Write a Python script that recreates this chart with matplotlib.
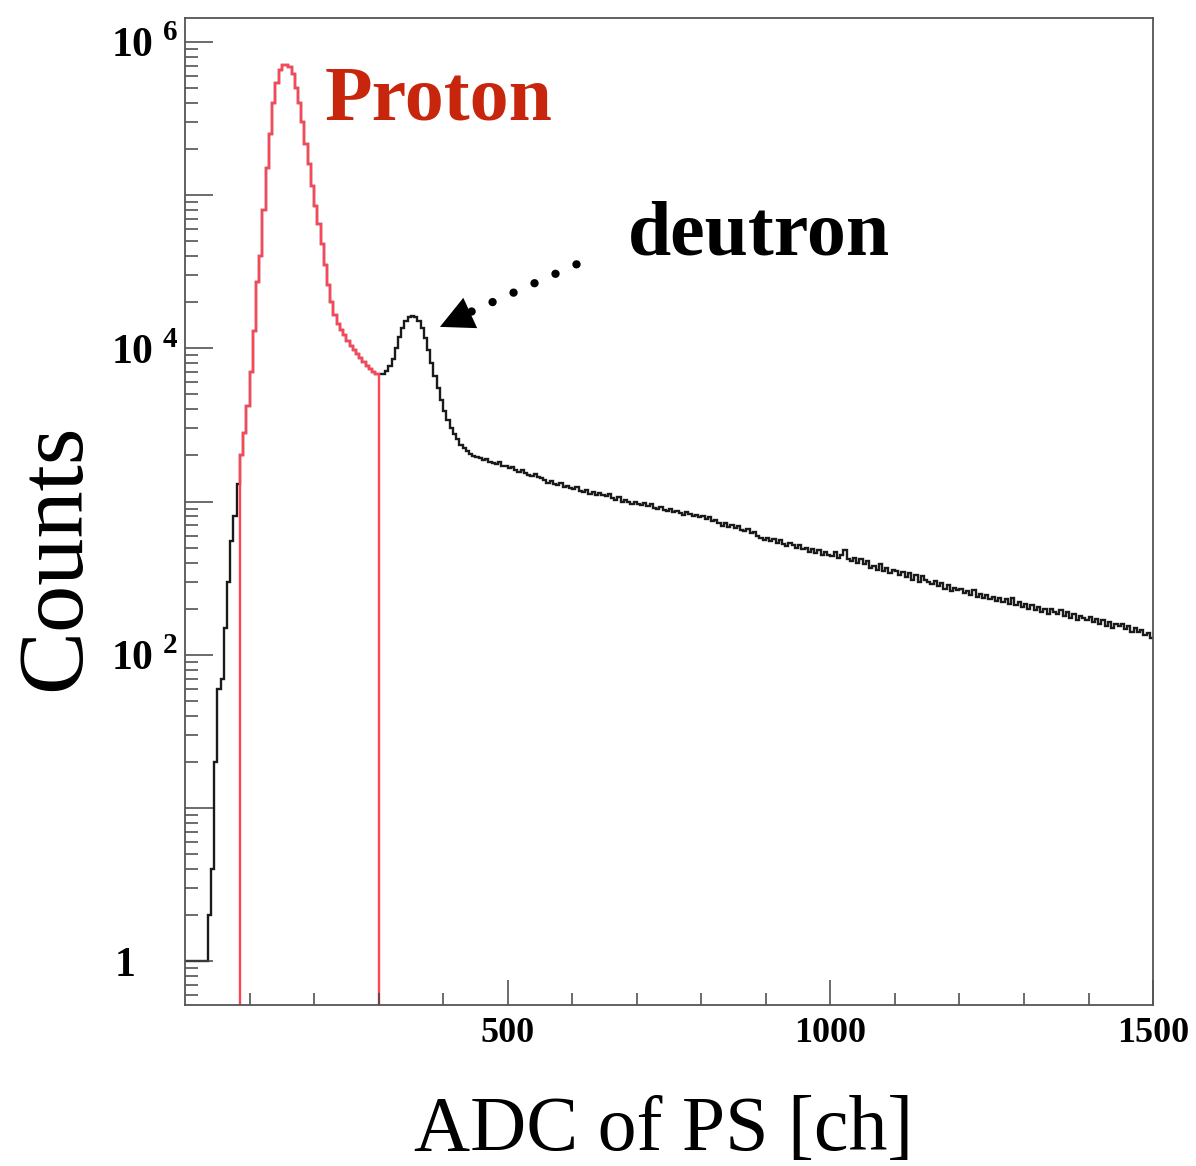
import numpy as np
import matplotlib
matplotlib.use('Agg')
import matplotlib.pyplot as plt
from matplotlib.ticker import FixedLocator, FuncFormatter, LogLocator, NullFormatter

# ---- data (5 ch / bin, 0 - 1500 ch) ----
bin_width = 5
x_max = 1500

# 0 - 455 ch : rising edge, proton peak, deuteron peak
counts_low = [
    1, 1, 1, 1, 1, 1, 1, 2, 4, 20,
    60, 70, 150, 300, 550, 800, 1300, 2000, 2800, 4200,
    7000, 13000, 27000, 40000, 80000, 150000, 250000, 400000, 540000, 650000,
    705000, 710000, 680000, 620000, 500000, 400000, 300000, 215000, 160000, 115000,
    85000, 65000, 48000, 35000, 26000, 20000, 16500, 14500, 13200, 12200,
    11200, 10400, 9800, 9200, 8600, 8200, 7700, 7300, 7000, 6850,
    6750, 6800, 7100, 7700, 8500, 10000, 11800, 13500, 15000, 15900,
    16300, 16000, 15000, 13500, 11700, 9800, 8000, 6600, 5500, 4600,
    3900, 3400, 3000, 2750, 2550, 2350, 2250, 2150, 2050, 1990,
    1950,
]

# 455 - 1500 ch : long tail
counts_tail = [
    1930, 1880, 1900, 1820, 1790, 1760, 1800, 1720, 1700,
    1650, 1680, 1600, 1560, 1610, 1530, 1500, 1470, 1520, 1440,
    1420, 1380, 1330, 1360, 1300, 1280, 1320, 1250, 1270, 1230,
    1210, 1240, 1170, 1150, 1190, 1120, 1160, 1100, 1130, 1110,
    1090, 1120, 1060, 1030, 1070, 1000, 1020, 990, 960, 1000,
    970, 950, 980, 930, 960, 910, 890, 920, 880, 870,
    890, 850, 870, 840, 820, 860, 830, 800, 820, 790,
    810, 770, 790, 750, 760, 720, 690, 730, 680, 700,
    670, 690, 650, 640, 660, 620, 630, 600, 580, 560,
    580, 550, 570, 540, 560, 530, 510, 540, 520, 500,
    520, 490, 500, 470, 490, 460, 480, 450, 470, 450,
    440, 470, 430, 450, 480, 420, 410, 430, 400, 420,
    390, 410, 370, 380, 360, 390, 350, 370, 340, 360,
    350, 330, 345, 320, 340, 310, 330, 300, 325, 310,
    300, 290, 305, 280, 295, 270, 285, 260, 275, 265,
    270, 255, 260, 245, 265, 240, 250, 235, 245, 230,
    240, 225, 235, 220, 230, 215, 235, 210, 220, 205,
    215, 200, 210, 195, 205, 190, 200, 185, 200, 190,
    185, 195, 180, 190, 175, 185, 170, 180, 175, 170,
    178, 165, 172, 160, 168, 155, 165, 150, 160, 155,
    158, 148, 155, 142, 150, 140, 145, 135, 138, 128,
]

proton_cut = (85, 300)     # gate for proton (red)

x_major = [500, 1000, 1500]
x_minor = [100, 200, 300, 400, 600, 700, 800, 900, 1100, 1200, 1300, 1400]
y_label_exp = [2, 4, 6]    # only these decades get a label (plus "1")

# ---- build histograms ----
counts = np.array(counts_low + counts_tail, dtype=float)
edges = np.arange(0, x_max + bin_width, bin_width)
centers = edges[:-1] + bin_width / 2
proton = np.where((centers > proton_cut[0]) & (centers < proton_cut[1]), counts, 1e-3)

plt.rcParams['font.family'] = ['Liberation Serif', 'DejaVu Serif']
plt.rcParams['mathtext.fontset'] = 'custom'
plt.rcParams['mathtext.rm'] = 'Liberation Serif'
plt.rcParams['mathtext.bf'] = 'Liberation Serif:bold'

fig = plt.figure(figsize=(11.96, 11.66), dpi=100)
ax = fig.add_axes([0.1547, 0.1381, 0.8094, 0.8465])

ax.stairs(counts, edges, baseline=None, color='#1a1a1a', lw=1.7)
ax.stairs(proton, edges, baseline=None, color='#ff4455', lw=1.7)

ax.set_yscale('log')
ax.set_xlim(0, x_max)
ax.set_ylim(0.52, 1.43e6)

# ticks like ROOT (inside, left / bottom only)
ax.xaxis.set_major_locator(FixedLocator(x_major))
ax.xaxis.set_minor_locator(FixedLocator(x_minor))
ax.yaxis.set_major_locator(LogLocator(base=10, numticks=20))
ax.yaxis.set_minor_locator(LogLocator(base=10, subs=np.arange(2, 10), numticks=20))
ax.yaxis.set_minor_formatter(NullFormatter())


def y_fmt(v, pos):
    e = int(round(np.log10(v)))
    if e == 0:
        return r'$\mathbf{1}$' + '     '
    if e in y_label_exp:
        return r'$\mathbf{10}^{\ \mathbf{%d}}$' % e
    return ''


ax.yaxis.set_major_formatter(FuncFormatter(y_fmt))
ax.tick_params(which='both', direction='in', top=False, right=False, color='#444', width=1.1)
ax.tick_params(axis='y', which='major', length=20, labelsize=30, pad=5)
ax.tick_params(axis='y', which='minor', length=9.5)
ax.tick_params(axis='x', which='major', length=18, labelsize=26, pad=9)
ax.tick_params(axis='x', which='minor', length=8.5)
for lab in ax.get_xticklabels():
    lab.set_fontweight('bold')

for s in ax.spines.values():
    s.set_color('#555')
    s.set_linewidth(1.3)

# labels
fig.text(0.555, 1 - 1150 / 1166, 'ADC of PS [ch]', fontsize=56, ha='center', va='baseline')
fig.text(57 / 1196, 1 - 557 / 1166, 'Counts', fontsize=68, rotation=90, ha='center', va='center')

ax.text(0.1446, 0.8967, 'Proton', transform=ax.transAxes, color='#c8260c',
        fontsize=56, fontweight='bold', va='baseline')
ax.text(0.4576, 0.7599, 'deutron', transform=ax.transAxes, color='black',
        fontsize=56, fontweight='bold', va='baseline')

# dotted arrow pointing at the deuteron peak
ax.plot([444, 613], [10 ** 4.24, 10 ** 4.56], color='black', lw=6,
        linestyle=(0, (0.01, 2.75)), dash_capstyle='round')
ax.annotate('', xy=(395, 10 ** 4.14), xytext=(613, 10 ** 4.56),
            arrowprops=dict(arrowstyle='-|>,head_length=1.0,head_width=0.5',
                            mutation_scale=24, color='black', lw=0,
                            shrinkA=0, shrinkB=0))

fig.savefig('out.png', dpi=100)
